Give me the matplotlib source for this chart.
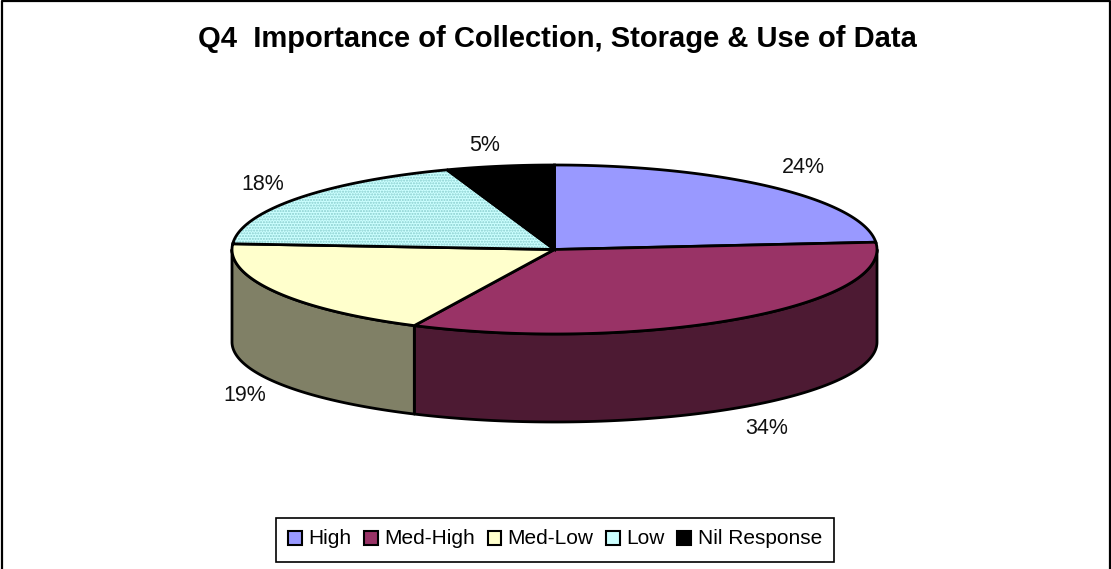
import numpy as np
import matplotlib
matplotlib.use('Agg')
import matplotlib.pyplot as plt
from matplotlib.patches import Patch, Polygon

categories = ['High', 'Med-High', 'Med-Low', 'Low', 'Nil Response']
shares = [23.6, 33.5, 18.9, 18.5, 5.4]
labels = ['24%', '34%', '19%', '18%', '5%']

top_colors = ['#9999FF', '#993366', '#FFFFCC', '#CCFFFF', '#000000']
side_colors = ['#4D4D80', '#4D1A33', '#808066', '#668080', '#000000']
label_pos = [(803, 167), (767, 428), (245, 395), (263, 184), (485, 145)]

# pie geometry in pixels
cx, rx = 554.5, 322.5
top_cy, top_ry = 249.5, 84.5
bot_cy, bot_ry = 342, 80


def rim(a, cy, ry):
    # angle is clockwise from the top
    return np.column_stack([cx + rx * np.sin(a), cy - ry * np.cos(a)])


plt.rcParams['font.family'] = ['Liberation Sans', 'DejaVu Sans']
fig = plt.figure(figsize=(11.11, 5.69), dpi=100)
ax = fig.add_axes([0, 0, 1, 1])
ax.set_xlim(0, 1111)
ax.set_ylim(569, 0)
ax.axis('off')

# outer frame, the bottom edge is cut off in the reference
ax.plot([1.5, 1.5, 1110, 1110], [569, 1, 1, 569], color='black', lw=1.6, clip_on=False)

ends = np.cumsum(shares) / sum(shares) * 2 * np.pi
starts = np.r_[0, ends[:-1]]

# side wall, only the front half shows
for s, e, c in zip(starts, ends, side_colors):
    lo, hi = max(s, np.pi / 2), min(e, 3 * np.pi / 2)
    if lo >= hi:
        continue
    a = np.linspace(lo, hi, 120)
    pts = np.vstack([rim(a, top_cy, top_ry), rim(a[::-1], bot_cy, bot_ry)])
    ax.add_patch(Polygon(pts, closed=True, fc=c, ec='black', lw=2, joinstyle='round'))

# top face
for i, (s, e, c) in enumerate(zip(starts, ends, top_colors)):
    a = np.linspace(s, e, 120)
    pts = np.vstack([[cx, top_cy], rim(a, top_cy, top_ry)])
    if categories[i] == 'Low':
        ax.add_patch(Polygon(pts, closed=True, fc=c, ec='#88CCCC', lw=0, hatch='......'))
        ax.add_patch(Polygon(pts, closed=True, fill=False, ec='black', lw=2))
    else:
        ax.add_patch(Polygon(pts, closed=True, fc=c, ec='black', lw=2))

for txt, (x, y) in zip(labels, label_pos):
    ax.text(x, y, txt, fontsize=15.5, ha='center', va='center', color='#111111')

ax.text(557, 39, 'Q4  Importance of Collection, Storage & Use of Data', fontsize=21,
        fontweight='bold', ha='center', va='center')

handles = []
for name, c in zip(categories, top_colors):
    handles.append(Patch(fc=c, ec='black', lw=1.5, label=name))
leg = ax.legend(handles=handles, ncol=5, loc='center', bbox_to_anchor=(555 / 1111, 1 - 540 / 569),
                fontsize=15, frameon=True, fancybox=False, edgecolor='black', framealpha=1,
                handlelength=0.67, handleheight=0.67, handletextpad=0.3, columnspacing=0.6,
                borderpad=0.6, borderaxespad=0)
leg.get_frame().set_linewidth(1.2)
# legend text sits a little above the swatches
for t in leg.get_texts():
    t.set_y(2)

fig.savefig('out.png', dpi=100)
